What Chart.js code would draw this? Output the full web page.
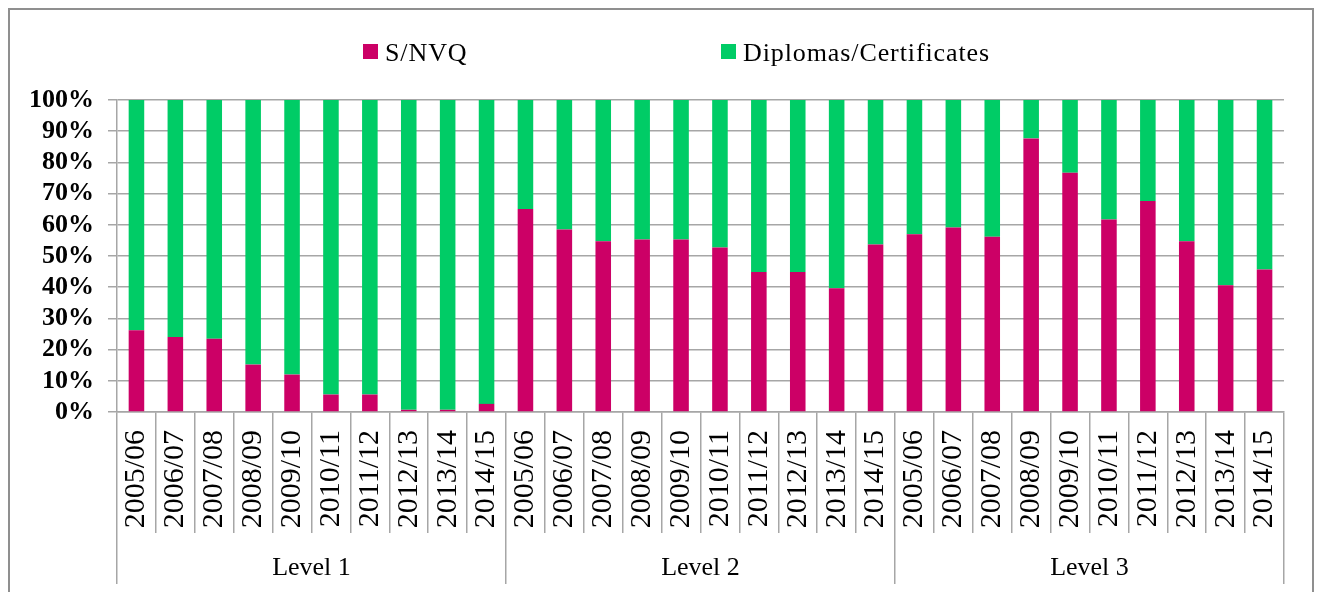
<!DOCTYPE html>
<html>
<head>
<meta charset="utf-8">
<script src="https://cdn.jsdelivr.net/npm/chart.js@4"></script>
<style>
    body { margin: 0; background: #fff; }
    #wrap { position: relative; width: 1319px; height: 592px; overflow: hidden; }
    #frame { position: absolute; left: 8px; top: 8px; width: 1302px; height: 700px; border: 2px solid #8f8f8f; }
    #js--chart { position: absolute; left: 0; top: 0; }
    .leg-box { position: absolute; width: 15px; height: 15px; }
    .leg-text { position: absolute; font-family: "Liberation Serif", serif; font-size: 26px; line-height: 26px; letter-spacing: 0.9px; color: #000; white-space: nowrap; }
</style>
</head>
<body>
<div id="wrap">
    <div id="frame"></div>
    <canvas id="js--chart" width="1319" height="592"></canvas>
    <div id="js--legend"></div>
</div>
<script>
const years = ["2005/06","2006/07","2007/08","2008/09","2009/10","2010/11","2011/12","2012/13","2013/14","2014/15"];
const levels = ["Level 1","Level 2","Level 3"];

const snvq = [
    26.2,24.0,23.5,15.2,12.0,5.6,5.6,0.7,0.7,2.6,
    65.1,58.5,54.7,55.3,55.3,52.7,44.9,44.9,39.7,53.7,
    57.0,59.1,56.2,87.7,76.7,61.7,67.6,54.7,40.6,45.7
];
const diplomas = [
    73.8,76.0,76.5,84.8,88.0,94.4,94.4,99.3,99.3,97.4,
    34.9,41.5,45.3,44.7,44.7,47.3,55.1,55.1,60.3,46.3,
    43.0,40.9,43.8,12.3,23.3,38.3,32.4,45.3,59.4,54.3
];

const yTicks = [0,10,20,30,40,50,60,70,80,90,100];

// every level repeats the same years
let labels = [];
levels.forEach(() => {
    years.forEach(y => labels.push(y));
});

const grey = "#a6a6a6";

const data = {
    labels: labels,
    datasets: [
        {
            label: "S/NVQ",
            data: snvq,
            backgroundColor: "#cc0066",
            barPercentage: 0.4,
            categoryPercentage: 1.0
        },
        {
            label: "Diplomas/Certificates",
            data: diplomas,
            backgroundColor: "#00cc66",
            barPercentage: 0.4,
            categoryPercentage: 1.0
        }
    ]
};

const config = {
    type: "bar",
    data: data,
    options: {
        responsive: false,
        animation: false,
        layout: { padding: { left: 0, top: 100, right: 35, bottom: 8 } },
        plugins: {
            legend: { display: false },
            tooltip: { enabled: false }
        },
        scales: {
            x: {
                stacked: true,
                weight: 0,
                grid: { offset: true, drawOnChartArea: false, tickLength: 121, color: grey, lineWidth: 1.5 },
                border: { color: grey, width: 1.5 },
                ticks: {
                    autoSkip: false,
                    minRotation: 90,
                    maxRotation: 90,
                    padding: -103,
                    color: "#000",
                    font: { family: "'Liberation Serif', serif", size: 30 }
                },
                afterFit: (s) => { s.height = 121; }
            },
            x2: {
                type: "category",
                labels: levels,
                position: "bottom",
                offset: true,
                weight: 1,
                grid: { offset: true, drawOnChartArea: false, tickLength: 51, color: grey, lineWidth: 1.5 },
                border: { display: false },
                ticks: {
                    padding: -31,
                    color: "#000",
                    font: { family: "'Liberation Serif', serif", size: 26 }
                },
                afterFit: (s) => { s.height = 51; }
            },
            y: {
                stacked: true,
                min: 0,
                max: 100,
                grid: { color: grey, lineWidth: 1.5, tickLength: 9 },
                border: { color: grey, width: 1.5 },
                afterBuildTicks: (s) => { s.ticks = yTicks.map(v => ({ value: v })); },
                ticks: {
                    autoSkip: false,
                    padding: 14,
                    color: "#000",
                    font: { family: "'Liberation Serif', serif", size: 26, weight: "bold" },
                    callback: (v) => v + "%"
                },
                afterFit: (s) => { s.width = 117; }
            }
        }
    }
};

const chart = new Chart(document.getElementById("js--chart"), config);

// legend as html, spread out like the original
const legendPos = [
    { box: 363, text: 385 },
    { box: 721, text: 743 }
];
let legend = document.getElementById("js--legend");
chart.data.datasets.forEach((ds, i) => {
    let box = document.createElement("div");
    box.className = "leg-box";
    box.style.left = legendPos[i].box + "px";
    box.style.top = "44px";
    box.style.background = ds.backgroundColor;
    legend.appendChild(box);

    let txt = document.createElement("div");
    txt.className = "leg-text";
    txt.style.left = legendPos[i].text + "px";
    txt.style.top = "40px";
    txt.innerHTML = ds.label;
    legend.appendChild(txt);
});
</script>
</body>
</html>
